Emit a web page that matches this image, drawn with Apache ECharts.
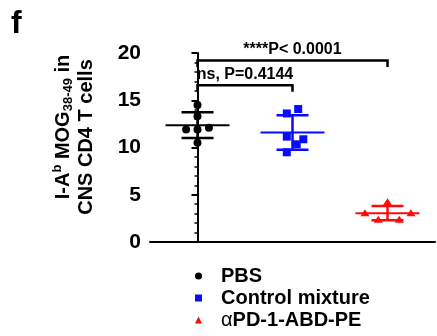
<!DOCTYPE html>
<html>
<head>
<meta charset="utf-8">
<script src="https://cdn.jsdelivr.net/npm/echarts@6/dist/echarts.min.js"></script>
<style>html,body{margin:0;padding:0;background:#fff;}#c{width:437px;height:336px;}</style>
</head>
<body>
<div id="c"></div>
<script>
const categories = ['PBS', 'Control mixture', 'αPD-1-ABD-PE'];
const pbsValues = [14.5, 13.3, 11.9, 11.9, 12.1, 10.5];
const pbsJitter = [0, 0, -0.12, 0, 0.12, 0];
const controlValues = [13.6, 14.07, 11.15, 10.87, 10.34, 9.49];
const controlJitter = [-0.06, 0.06, -0.06, 0.114, 0.044, -0.06];
const antibodyValues = [3.1, 4.26, 2.4, 2.4, 3.1];
const antibodyJitter = [-0.237, 0, -0.097, 0.124, 0.247];
const yMin = 0, yMax = 20, yInterval = 5;
const comparisons = [
  { from: 0, to: 1, label: 'ns, P=0.4144', level: 16.6 },
  { from: 0, to: 2, label: '****P< 0.0001', level: 19.2 }
];

const colors = ['#000000', '#0a0aff', '#ff0a0a'];
const symbols = ['circle', 'rect', 'triangle'];
const groups = [
  [pbsValues, pbsJitter],
  [controlValues, controlJitter],
  [antibodyValues, antibodyJitter]
];
const FONT = '"Liberation Sans", Arial, sans-serif';

function stats(v) {
  const m = v.reduce((a, b) => a + b, 0) / v.length;
  const sd = Math.sqrt(v.reduce((a, b) => a + (b - m) * (b - m), 0) / (v.length - 1));
  return [m, sd];
}

const scatterSeries = groups.map((g, i) => ({
  name: categories[i],
  type: 'scatter',
  symbol: symbols[i],
  symbolSize: i === 2 ? [9, 7] : 8,
  itemStyle: { color: colors[i], opacity: 1 },
  data: g[0].map((v, k) => [i + g[1][k], v]),
  z: 2
}));

const errorData = groups.map((g, i) => { const s = stats(g[0]); return [i, s[0], s[1]]; });

const errorSeries = {
  type: 'custom',
  z: 3,
  silent: true,
  data: errorData,
  renderItem: function (params, api) {
    const i = api.value(0), m = api.value(1), sd = api.value(2);
    const c = api.coord([i, m]);
    const up = api.coord([i, m + sd]);
    const lo = api.coord([i, m - sd]);
    const col = colors[params.dataIndex];
    const meanHalf = 32, capHalf = 16;
    return {
      type: 'group',
      children: [
        { type: 'line', shape: { x1: c[0] - meanHalf, y1: c[1], x2: c[0] + meanHalf, y2: c[1] }, style: { stroke: col, lineWidth: 2 } },
        { type: 'line', shape: { x1: c[0], y1: up[1], x2: c[0], y2: lo[1] }, style: { stroke: col, lineWidth: 2.5 } },
        { type: 'line', shape: { x1: c[0] - capHalf, y1: up[1], x2: c[0] + capHalf, y2: up[1] }, style: { stroke: col, lineWidth: 2.5 } },
        { type: 'line', shape: { x1: c[0] - capHalf, y1: lo[1], x2: c[0] + capHalf, y2: lo[1] }, style: { stroke: col, lineWidth: 2.5 } }
      ]
    };
  }
};

const bracketSeries = {
  type: 'custom',
  z: 4,
  silent: true,
  data: comparisons.map(c => [c.from, c.to, c.level]),
  renderItem: function (params, api) {
    const a = api.coord([api.value(0), api.value(2)]);
    const b = api.coord([api.value(1), api.value(2)]);
    const drop = 6.5;
    return {
      type: 'group',
      children: [
        { type: 'polyline', shape: { points: [[a[0], a[1] + drop], [a[0], a[1]], [b[0], b[1]], [b[0], b[1] + drop]] },
          style: { stroke: '#000', lineWidth: 2.5, fill: null } },
        { type: 'text', style: { text: comparisons[params.dataIndex].label, x: (a[0] + b[0]) / 2, y: a[1] - 11,
          align: 'center', verticalAlign: 'middle', fill: '#000', font: 'bold 16px ' + FONT } }
      ]
    };
  }
};

const chart = echarts.init(document.getElementById('c'), null, { renderer: 'canvas' });
chart.setOption({
  animation: false,
  backgroundColor: '#fff',
  grid: { left: 150, right: 2, top: 53, bottom: 94, containLabel: false },
  xAxis: {
    type: 'value', min: -0.5, max: 2.5,
    axisLine: { show: true, onZero: false, lineStyle: { color: '#000', width: 2 } },
    axisTick: { show: false }, axisLabel: { show: false }, splitLine: { show: false }
  },
  yAxis: {
    type: 'value', min: yMin, max: yMax, interval: yInterval,
    axisLine: { show: true, lineStyle: { color: '#000', width: 2 } },
    axisTick: { show: true, inside: false, length: 6, lineStyle: { color: '#000', width: 2 } },
    minorTick: { show: true, splitNumber: 5, length: 3, lineStyle: { color: '#000', width: 1.5 } },
    axisLabel: { color: '#000', fontSize: 21, fontWeight: 'bold', fontFamily: FONT, margin: 9 },
    splitLine: { show: false }
  },
  legend: {
    orient: 'vertical', left: 195, top: 266, itemGap: 2, padding: 0, height: 80,
    itemWidth: 7, itemHeight: 7,
    data: categories,
    formatter: function (name) {
      if (name.charAt(0) === 'α') return '{a|α}{b|' + name.slice(1) + '}';
      return '{b|' + name + '}';
    },
    textStyle: {
      color: '#000', fontSize: 20, fontWeight: 'bold', fontFamily: FONT, lineHeight: 20, padding: [0, 0, 0, 14],
      rich: {
        a: { fontSize: 20, fontWeight: 'normal', fontFamily: FONT, color: '#000', lineHeight: 20 },
        b: { fontSize: 20, fontWeight: 'bold', fontFamily: FONT, color: '#000', lineHeight: 20 }
      }
    }
  },
  graphic: [
    { type: 'text', left: 11, top: 8, style: { text: 'f', font: 'bold 32px ' + FONT, fill: '#000' } },
    { type: 'text', x: 63, y: 127, rotation: Math.PI / 2,
      style: {
        text: '{m|I-A}{sup|b}{m| MOG}{sub|38-49}{m| in}',
        align: 'center', verticalAlign: 'middle',
        rich: {
          m: { font: 'bold 20px ' + FONT, fill: '#000', lineHeight: 24 },
          sup: { font: 'bold 13px ' + FONT, fill: '#000', verticalAlign: 'top', lineHeight: 14 },
          sub: { font: 'bold 13px ' + FONT, fill: '#000', verticalAlign: 'bottom', lineHeight: 14 }
        }
      } },
    { type: 'text', x: 86, y: 137, rotation: Math.PI / 2,
      style: { text: 'CNS CD4 T cells', align: 'center', verticalAlign: 'middle', font: 'bold 20px ' + FONT, fill: '#000' } }
  ],
  series: scatterSeries.concat([errorSeries, bracketSeries])
});
</script>
</body>
</html>
